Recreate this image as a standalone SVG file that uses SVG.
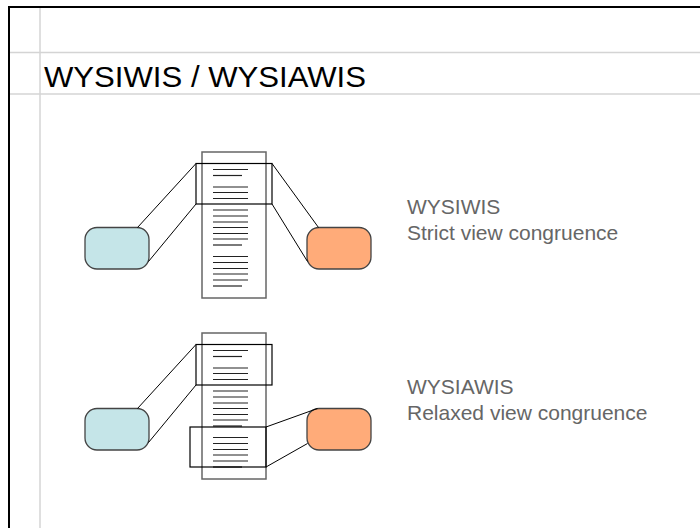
<svg xmlns="http://www.w3.org/2000/svg" width="700" height="528" viewBox="0 0 700 528">
  <style>
    .frame { stroke: #000; stroke-width: 2; fill: none; }
    .guide { stroke: #d4d4d4; stroke-width: 1.5; fill: none; }
    .title { font-family: "Liberation Sans", Arial, sans-serif; font-size: 30px; fill: #000; }
    .label { font-family: "Liberation Sans", Arial, sans-serif; font-size: 21px; fill: #666; }
    .doc { fill: #fff; stroke: #666; stroke-width: 1.5; }
    .row { stroke: #222; stroke-width: 1.2; }
    .view { fill: none; stroke: #000; stroke-width: 1.2; }
    .client-a { fill: #c5e5e8; stroke: #444; stroke-width: 1.3; }
    .client-b { fill: #ffab79; stroke: #444; stroke-width: 1.3; }
    .link { stroke: #000; stroke-width: 1; fill: none; }
  </style>
  <defs>
    <!-- text rows of one document page -->
    <g id="rows">
      <line class="row" x1="213" y1="17.5" x2="248" y2="17.5"/>
      <line class="row" x1="213" y1="23.5" x2="242" y2="23.5"/>
      <line class="row" x1="213" y1="35" x2="248" y2="35"/>
      <line class="row" x1="213" y1="40.5" x2="248" y2="40.5"/>
      <line class="row" x1="213" y1="46.5" x2="248" y2="46.5"/>
      <line class="row" x1="213" y1="58" x2="248" y2="58"/>
      <line class="row" x1="213" y1="64" x2="248" y2="64"/>
      <line class="row" x1="213" y1="70" x2="248" y2="70"/>
      <line class="row" x1="213" y1="75.5" x2="248" y2="75.5"/>
      <line class="row" x1="213" y1="81.5" x2="248" y2="81.5"/>
      <line class="row" x1="213" y1="87" x2="248" y2="87"/>
      <line class="row" x1="213" y1="93" x2="242" y2="93"/>
      <line class="row" x1="213" y1="104.5" x2="248" y2="104.5"/>
      <line class="row" x1="213" y1="110.5" x2="248" y2="110.5"/>
      <line class="row" x1="213" y1="116.5" x2="248" y2="116.5"/>
      <line class="row" x1="213" y1="122" x2="248" y2="122"/>
      <line class="row" x1="213" y1="128" x2="248" y2="128"/>
      <line class="row" x1="213" y1="134" x2="242" y2="134"/>
    </g>
  </defs>

  <!-- slide frame and guides -->
  <g id="frame">
    <line class="guide" x1="40" y1="8" x2="40" y2="528"/>
    <line class="guide" x1="9" y1="52.5" x2="700" y2="52.5"/>
    <line class="guide" x1="9" y1="94" x2="700" y2="94"/>
    <line class="frame" x1="9" y1="7" x2="700" y2="7"/>
    <line class="frame" x1="9" y1="6" x2="9" y2="528"/>
  </g>

  <text id="title" class="title" x="44" y="87" textLength="322" lengthAdjust="spacingAndGlyphs">WYSIWIS / WYSIAWIS</text>

  <!-- strict: both views show the same region -->
  <g id="doc-strict">
    <rect class="doc" x="202" y="152" width="64" height="146"/>
    <use href="#rows" transform="translate(0,152)"/>
  </g>
  <g id="view-strict">
    <rect class="view" x="196" y="163.5" width="76" height="40.5"/>
  </g>
  <g id="client-a-strict">
    <rect class="client-a" x="85" y="227.5" width="64" height="41.5" rx="12"/>
  </g>
  <g id="client-b-strict">
    <rect class="client-b" x="307" y="227.5" width="64" height="41.5" rx="12"/>
  </g>
  <g id="connectors-strict">
    <line class="link" x1="137.5" y1="227.5" x2="196" y2="163.5"/>
    <line class="link" x1="148.5" y1="261.5" x2="196" y2="204"/>
    <line class="link" x1="272" y1="163.5" x2="318.5" y2="227.5"/>
    <line class="link" x1="272" y1="204" x2="307.5" y2="261.5"/>
  </g>
  <g id="label-strict">
    <text class="label" x="407" y="213.5">WYSIWIS</text>
    <text class="label" x="407" y="240">Strict view congruence</text>
  </g>

  <!-- relaxed: each view shows its own region -->
  <g id="doc-relaxed">
    <rect class="doc" x="202" y="333" width="64" height="146"/>
    <use href="#rows" transform="translate(0,333)"/>
  </g>
  <g id="view-relaxed-a">
    <rect class="view" x="196" y="344.5" width="76" height="40.5"/>
  </g>
  <g id="view-relaxed-b">
    <rect class="view" x="190" y="427" width="76" height="40"/>
  </g>
  <g id="client-a-relaxed">
    <rect class="client-a" x="85" y="408.5" width="64" height="41.5" rx="12"/>
  </g>
  <g id="client-b-relaxed">
    <rect class="client-b" x="307" y="408.5" width="64" height="41.5" rx="12"/>
  </g>
  <g id="connectors-relaxed">
    <line class="link" x1="137.5" y1="408.5" x2="196" y2="344.5"/>
    <line class="link" x1="148.5" y1="442.5" x2="196" y2="385"/>
    <line class="link" x1="266" y1="427" x2="317.5" y2="408.5"/>
    <line class="link" x1="266" y1="467" x2="307.5" y2="443.5"/>
  </g>
  <g id="label-relaxed">
    <text class="label" x="407" y="393.5">WYSIAWIS</text>
    <text class="label" x="407" y="420">Relaxed view congruence</text>
  </g>
</svg>
